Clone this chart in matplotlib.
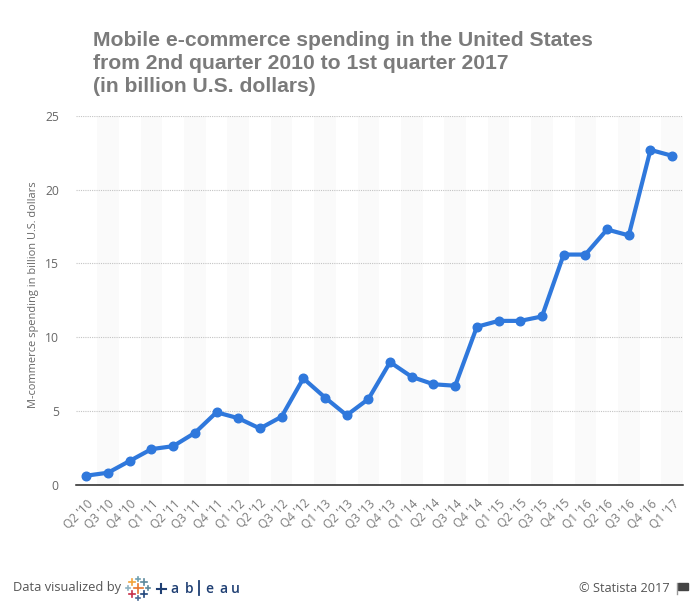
#!/usr/bin/env python3
import matplotlib
matplotlib.use("Agg")
import matplotlib.pyplot as plt
from matplotlib.lines import Line2D
from matplotlib.patches import Rectangle

quarters = ["Q2 '10", "Q3 '10", "Q4 '10", "Q1 '11", "Q2 '11", "Q3 '11", "Q4 '11",
            "Q1 '12", "Q2 '12", "Q3 '12", "Q4 '12", "Q1 '13", "Q2 '13", "Q3 '13",
            "Q4 '13", "Q1 '14", "Q2 '14", "Q3 '14", "Q4 '14", "Q1 '15", "Q2 '15",
            "Q3 '15", "Q4 '15", "Q1 '16", "Q2 '16", "Q3 '16", "Q4 '16", "Q1 '17"]
spending = [0.6, 0.8, 1.6, 2.4, 2.6, 3.5, 4.9, 4.5, 3.8, 4.6, 7.2, 5.9, 4.7, 5.8,
            8.3, 7.3, 6.8, 6.7, 10.7, 11.1, 11.1, 11.4, 15.6, 15.6, 17.3, 16.9,
            22.7, 22.3]
y_ticks = [0, 5, 10, 15, 20, 25]

W, H = 697, 602
plt.rcParams['font.family'] = ['Open Sans', 'DejaVu Sans']

fig = plt.figure(figsize=(W / 100, H / 100), dpi=100)
ax = fig.add_axes([75.5 / W, 1 - 484.5 / H, 607.5 / W, 368.5 / H])

# alternating category bands
for i in range(1, len(quarters), 2):
    ax.axvspan(i - 0.5, i + 0.5, color='#fafafa', lw=0, zorder=0)

ax.plot(range(len(quarters)), spending, color='#2f78dc', lw=3.0, marker='o',
        ms=6.2, zorder=3, solid_joinstyle='round', clip_on=False)

ax.set_xlim(-0.5, len(quarters) - 0.5)
ax.set_ylim(0, 25)
ax.set_yticks(y_ticks)
ax.set_xticks(range(len(quarters)))
ax.set_xticklabels(quarters, rotation=45, ha='right', rotation_mode='anchor',
                   fontsize=8.6, color='#7a7a7a')
ax.tick_params(axis='x', length=0, pad=9)
ax.tick_params(axis='y', length=0, pad=12, labelsize=8.7, labelcolor='#666666')
ax.grid(axis='y', color='#c4c4c4', lw=0.8, ls=(0, (1, 1)), zorder=1)
ax.set_axisbelow(True)
for s in ['top', 'left', 'right']:
    ax.spines[s].set_visible(False)
ax.spines['bottom'].set_color('#222222')
ax.spines['bottom'].set_linewidth(1.1)

fig.text(33.5 / W, 1 - 295 / H, "M-commerce spending in billion U.S. dollars", rotation=90,
         ha='center', va='center', fontsize=7.9, color='#666666')

fig.text(93 / W, 1 - 30.5 / H,
         "Mobile e-commerce spending in the United States\n"
         "from 2nd quarter 2010 to 1st quarter 2017\n(in billion U.S. dollars)",
         family='Liberation Sans', weight='bold', fontsize=15.2, color='#7b7b7b',
         va='top', ha='left', linespacing=1.3)

fig.text(13 / W, 1 - 587 / H, "Data visualized by", fontsize=9.3, color='#555555',
         va='center', ha='left')
fig.text(670 / W, 1 - 588 / H, "© Statista 2017", fontsize=9.2, color='#555555',
         va='center', ha='right')


# tableau logo built from small crosses
def cross(cx, cy, size, color, lw=1.2):
    fig.add_artist(Line2D([(cx - size) / W, (cx + size) / W], [1 - cy / H, 1 - cy / H],
                          color=color, lw=lw))
    fig.add_artist(Line2D([cx / W, cx / W], [1 - (cy - size) / H, 1 - (cy + size) / H],
                          color=color, lw=lw))


for cx, cy, size, color in [(138, 588, 4.5, '#e8762d'), (132, 582, 3, '#f2a33a'),
                            (144, 582, 3, '#5b879b'), (132, 594, 3, '#c72f48'),
                            (144, 594, 3, '#1f447a'), (138, 579, 2, '#6e9fb0'),
                            (138, 598, 2, '#4b6a94'), (128, 588, 2, '#8fb2c0'),
                            (148, 588, 2, '#5b879b')]:
    cross(cx, cy, size, color)
cross(161, 588.5, 4.5, '#1f3f73', lw=1.5)
for lx, letter in [(174, 'a'), (189, 'b'), (209, 'e'), (223, 'a'), (235, 'u')]:
    fig.text(lx / W, 1 - 589 / H, letter, fontsize=10, color='#1f3f73', va='center',
             ha='center', weight='semibold')
fig.add_artist(Line2D([199 / W, 199 / W], [1 - 581 / H, 1 - 595 / H], color='#1f3f73', lw=1.3))

# flag icon next to the copyright
fig.add_artist(Line2D([676.5 / W, 676.5 / W], [1 - 583 / H, 1 - 594 / H], color='#999999', lw=1))
fig.add_artist(Rectangle((678 / W, 1 - 590 / H), 10 / W, 7 / H, color='#444444',
                         transform=fig.transFigure))

fig.savefig("out.png", dpi=100)
